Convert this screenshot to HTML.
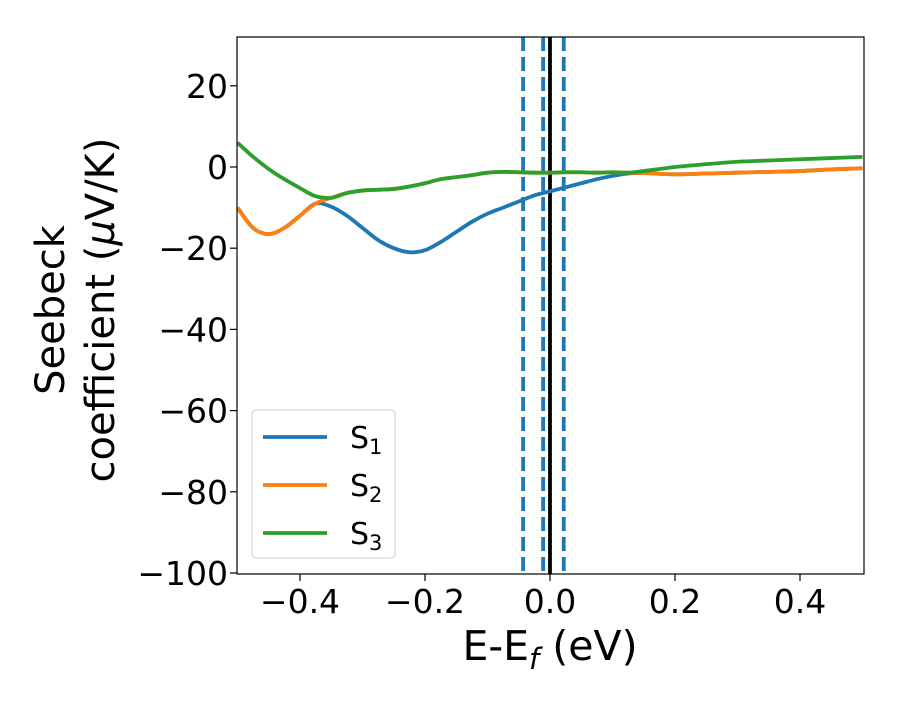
<!DOCTYPE html>
<html><head><meta charset="utf-8"><style>
body{margin:0;background:#fff;}
svg text{font-family:"DejaVu Sans","Liberation Sans",sans-serif;fill:#000;}
</style></head><body>
<svg id="chart" width="900" height="700" xmlns="http://www.w3.org/2000/svg"></svg>
<script>
const xs = [-0.5,-0.475,-0.45,-0.425,-0.4,-0.375,-0.35,-0.325,-0.3,-0.275,-0.25,-0.225,-0.2,-0.175,-0.15,-0.125,-0.1,-0.075,-0.05,-0.025,0,0.025,0.05,0.075,0.1,0.125,0.15,0.2,0.25,0.3,0.35,0.4,0.45,0.5];
const s1 = [-10,-15,-16.5,-15,-12,-9,-9.8,-12,-15,-18,-20,-21,-20.5,-18.5,-16,-13.5,-11.5,-10,-8.5,-7,-6,-5,-4,-3,-2.2,-1.6,-1.5,-1.8,-1.6,-1.4,-1.2,-1,-0.6,-0.3];
const s2 = [-10,-15,-16.5,-15,-12,-9,-7.6,-6.4,-5.8,-5.6,-5.4,-4.8,-4,-3,-2.5,-2,-1.4,-1.2,-1.3,-1.4,-1.4,-1.3,-1.3,-1.4,-1.3,-1.4,-1.5,-1.8,-1.6,-1.4,-1.2,-1,-0.6,-0.3];
const s3 = [6,2.5,-0.5,-3,-5.2,-7.2,-7.6,-6.4,-5.8,-5.6,-5.4,-4.8,-4,-3,-2.5,-2,-1.4,-1.2,-1.3,-1.4,-1.4,-1.3,-1.3,-1.4,-1.3,-1.4,-1.0,0,0.7,1.3,1.6,1.9,2.2,2.5];
const vlinesDashed = [-0.043,-0.011,0.022];
const xTicks = [-0.4,-0.2,0.0,0.2,0.4];
const xTickLabels = ["\u22120.4","\u22120.2","0.0","0.2","0.4"];
const yTicks = [20,0,-20,-40,-60,-80,-100];
const yTickLabels = ["20","0","\u221220","\u221240","\u221260","\u221280","\u2212100"];

const L=237,R=864,T=37,B=574;
const X=v=>237.5+(v+0.5)*625;
const Y=v=>167-v*4.06;
const svg=document.getElementById('chart');
const NS='http://www.w3.org/2000/svg';
function mk(tag,attrs,parent){const e=document.createElementNS(NS,tag);for(const k in attrs)e.setAttribute(k,attrs[k]);(parent||svg).appendChild(e);return e;}

const clip=mk('clipPath',{id:'c'});mk('rect',{x:L,y:T,width:R-L,height:B-T},clip);
const g=mk('g',{'clip-path':'url(#c)'});



vlinesDashed.forEach((v,i)=>{
 const l=mk('line',{x1:X(v),x2:X(v),y1:T,y2:B,stroke:'#1f77b4','stroke-width':3.8,'stroke-dasharray':'14,6'},g);
 
 
});
const z=mk('line',{x1:X(0),x2:X(0),y1:T,y2:B,stroke:'#000','stroke-width':3.8},g);



function smooth(pts){let d='M'+pts[0][0]+','+pts[0][1];for(let i=0;i<pts.length-1;i++){const p0=pts[i-1]||pts[i],p1=pts[i],p2=pts[i+1],p3=pts[i+2]||p2;d+=' C'+(p1[0]+(p2[0]-p0[0])/6)+','+(p1[1]+(p2[1]-p0[1])/6)+' '+(p2[0]-(p3[0]-p1[0])/6)+','+(p2[1]-(p3[1]-p1[1])/6)+' '+p2[0]+','+p2[1];}return d;}
[[s1,'#1f77b4','series-s1'],[s2,'#ff7f0e','series-s2'],[s3,'#2ca02c','series-s3']].forEach(([s,c,n])=>{
 const p=mk('path',{d:smooth(xs.map((x,i)=>[X(x),Y(s[i])])),fill:'none',stroke:c,'stroke-width':3.8},g);
 
 
});

const frame=mk('rect',{x:L,y:T,width:R-L,height:B-T,fill:'none',stroke:'#000','stroke-width':1.2});



xTicks.forEach((v,i)=>{
 mk('line',{x1:X(v),x2:X(v),y1:B,y2:B+7,stroke:'#000','stroke-width':1.2});
 const t=mk('text',{x:X(v),y:613,'font-size':33,'text-anchor':'middle'});t.textContent=xTickLabels[i];
 
 
});
yTicks.forEach((v,i)=>{
 mk('line',{x1:L-7,x2:L,y1:Y(v),y2:Y(v),stroke:'#000','stroke-width':1.2});
 const t=mk('text',{x:L-9,y:Y(v)+12,'font-size':33,'text-anchor':'end'});t.textContent=yTickLabels[i];
 
 
});
</script>
<svg width="900" height="700" style="position:absolute;left:0;top:0">
<text x="550" y="660" font-size="41" text-anchor="middle">E-E<tspan font-style="italic" font-size="29" dy="9">f</tspan><tspan dy="-9"> (eV)</tspan></text>
<g transform="translate(64,310) rotate(-90)">
<text x="0" y="0" font-size="40" text-anchor="middle">Seebeck</text>
<text x="0" y="50" font-size="40" text-anchor="middle">coefficient  (<tspan font-style="italic">μ</tspan>V/K)</text>
</g>
<g>
<rect x="252" y="410" width="143" height="148" rx="4" fill="#fff" fill-opacity="0.8" stroke="#ccc"/>
<line x1="263" x2="327" y1="437" y2="437" stroke="#1f77b4" stroke-width="3.8"/>
<text x="350" y="448" font-size="30">S<tspan font-size="21" dy="6">1</tspan></text>
<line x1="263" x2="327" y1="485" y2="485" stroke="#ff7f0e" stroke-width="3.8"/>
<text x="350" y="496" font-size="30">S<tspan font-size="21" dy="6">2</tspan></text>
<line x1="263" x2="327" y1="533" y2="533" stroke="#2ca02c" stroke-width="3.8"/>
<text x="350" y="544" font-size="30">S<tspan font-size="21" dy="6">3</tspan></text>
</g>
</svg>
</body></html>
